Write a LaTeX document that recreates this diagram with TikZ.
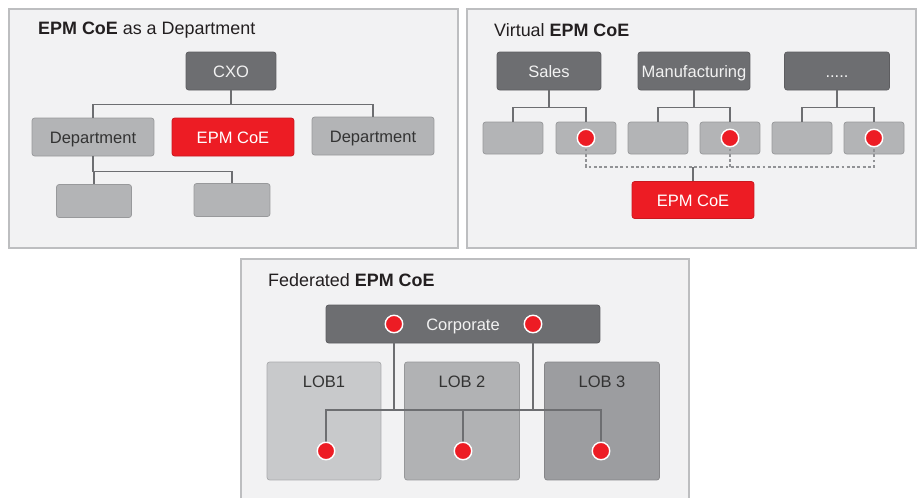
\documentclass[tikz,border=0pt]{standalone}
\usepackage{fontspec}
\setmainfont{Liberation Sans}
\usetikzlibrary{positioning}
\definecolor{panelbg}{HTML}{F2F2F3}
\definecolor{panelline}{HTML}{BDBEC0}
\definecolor{darkgray}{HTML}{6D6E71}
\definecolor{lightgray}{HTML}{B3B4B6}
\definecolor{epmred}{HTML}{ED1C24}
\definecolor{lobone}{HTML}{C8C9CB}
\definecolor{lobtwo}{HTML}{B1B2B4}
\definecolor{lobthree}{HTML}{9C9DA0}
\definecolor{titlecol}{HTML}{231F20}

\begin{document}
\begin{tikzpicture}[x=0.02cm,y=-0.02cm,
  panel/.style={fill=panelbg,draw=panelline,line width=0.8pt},
  title/.style={anchor=west,text=titlecol,font=\fontsize{10.2}{12}\selectfont},
  box/.style={rectangle,rounded corners=1.5pt,inner sep=0pt,text height=1.5ex,text depth=0.2ex,font=\fontsize{9.4}{11}\selectfont},
  darkbox/.style={box,fill=darkgray,draw=darkgray!85!black,text=white!90!gray},
  lightbox/.style={box,fill=lightgray,draw=lightgray!85!black,text=black!80},
  redbox/.style={box,fill=epmred,draw=epmred!85!black,text=white},
  lobtext/.style={text=black!80,text height=1.5ex,text depth=0.2ex,font=\fontsize{9.4}{11}\selectfont},
  dot/.style={circle,fill=epmred,draw=white,line width=0.8pt,minimum size=0.35cm,inner sep=0pt},
  conn/.style={draw=darkgray,line width=0.7pt},
  link/.style={draw=darkgray!75,line width=0.6pt,dash pattern=on 1.6pt off 1.4pt}]
\useasboundingbox (0,0) rectangle (917,498);

\filldraw[panel] (9,9) rectangle (458,248);
\node[title] (t1) at (32,30) {\textbf{EPM CoE} as a Department};
\node[darkbox,minimum width=1.8cm,minimum height=0.76cm] (cxo) at (231,71) {CXO};
\node[lightbox,minimum width=2.44cm,minimum height=0.76cm] (dep1) at (93,137) {Department};
\node[redbox,minimum width=2.44cm,minimum height=0.76cm] (epm1) at (233,137) {EPM CoE};
\node[lightbox,minimum width=2.44cm,minimum height=0.76cm] (dep2) at (373,136) {Department};
\node[lightbox,minimum width=1.5cm,minimum height=0.66cm] (sub1) at (94,201) {};
\node[lightbox,minimum width=1.52cm,minimum height=0.66cm] (sub2) at (232,200) {};
\draw[conn] (cxo.south) -- ++(0,14) -| (dep1.north);
\draw[conn] (cxo.south) -- ++(0,14) -| (dep2.north);
\draw[conn] (dep1.south) -- ++(0,15) -| (sub1.north);
\draw[conn] (dep1.south) -- ++(0,15) -| (sub2.north);

\filldraw[panel] (467,9) rectangle (916,248);
\node[title] (t2) at (488,30) {Virtual \textbf{EPM CoE}};
\node[darkbox,minimum width=2.08cm,minimum height=0.76cm] (sales) at (549,71) {Sales};
\node[darkbox,minimum width=2.24cm,minimum height=0.76cm] (manu) at (694,71) {Manufacturing};
\node[darkbox,minimum width=2.1cm,minimum height=0.76cm] (more) at (837,71) {.....};
\foreach \n/\x in {1/513,2/586,3/658,4/730,5/802,6/874}
  \node[lightbox,minimum width=1.2cm,minimum height=0.64cm] (b\n) at (\x,138) {};
\draw[conn] (sales.south) -- ++(0,17) -| (b1.north);
\draw[conn] (sales.south) -- ++(0,17) -| (b2.north);
\draw[conn] (manu.south) -- ++(0,17) -| (b3.north);
\draw[conn] (manu.south) -- ++(0,17) -| (b4.north);
\draw[conn] (more.south) -- ++(0,17) -| (b5.north);
\draw[conn] (more.south) -- ++(0,17) -| (b6.north);
\node[redbox,minimum width=2.44cm,minimum height=0.74cm] (epm2) at (693,200) {EPM CoE};
\coordinate (vbar) at (693,167);
\draw[link] (b2.center) |- (vbar) -| (b6.center);
\draw[link] (b4.center) -- (b4.center |- vbar);
\draw[conn] (vbar) -- (epm2.north);
\foreach \n in {2,4,6}
  \node[dot] (v\n) at (b\n.center) {};

\fill[panelbg] (241,259) rectangle (689,498);
\draw[panelline,line width=0.8pt] (241,498) -- (241,259) -- (689,259) -- (689,498);
\node[title] (t3) at (262,280) {Federated \textbf{EPM CoE}};
\node[darkbox,minimum width=5.48cm,minimum height=0.76cm] (corp) at (463,324) {Corporate};
\node[box,fill=lobone,draw=lobone!85!black,minimum width=2.28cm,minimum height=2.36cm] (lob1) at (324,421) {};
\node[box,fill=lobtwo,draw=lobtwo!85!black,minimum width=2.3cm,minimum height=2.36cm] (lob2) at (462,421) {};
\node[box,fill=lobthree,draw=lobthree!85!black,minimum width=2.3cm,minimum height=2.36cm] (lob3) at (602,421) {};
\node[lobtext] (l1) at (324,381) {LOB1};
\node[lobtext] (l2) at (462,381) {LOB 2};
\node[lobtext] (l3) at (602,381) {LOB 3};
\coordinate (cd1) at (394,324);
\coordinate (cd2) at (533,324);
\coordinate (fbar) at (463,410);
\coordinate (ld1) at (326,451);
\coordinate (ld2) at (463,451);
\coordinate (ld3) at (601,451);
\draw[conn] (cd1) -- (cd1 |- fbar);
\draw[conn] (cd2) -- (cd2 |- fbar);
\draw[conn] (ld1) |- (fbar) -| (ld3);
\draw[conn] (ld2) -- (fbar);
\foreach \c in {cd1,cd2,ld1,ld2,ld3}
  \node[dot] (dot-\c) at (\c) {};
\end{tikzpicture}
\end{document}
